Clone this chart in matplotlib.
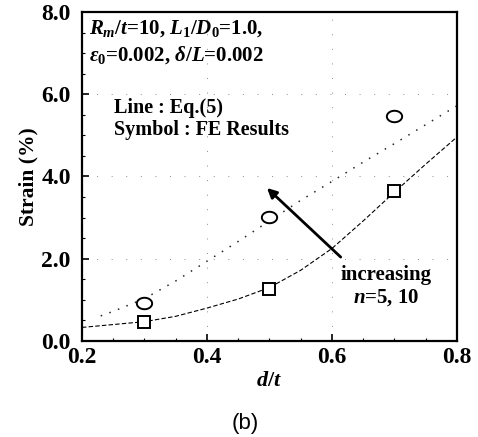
import numpy as np
import matplotlib
matplotlib.use('Agg')
import matplotlib.pyplot as plt
from matplotlib.path import Path
from matplotlib.ticker import MultipleLocator, FormatStrFormatter

serif = 'Liberation Serif'
plt.rcParams['mathtext.fontset'] = 'custom'
plt.rcParams['mathtext.rm'] = serif + ':bold'
plt.rcParams['mathtext.it'] = serif + ':bold:italic'
plt.rcParams['mathtext.bf'] = serif + ':bold'
plt.rcParams['mathtext.bfit'] = serif + ':bold:italic'

# Eq.(5) curves, n=5 (dashed) and n=10 (dotted)
dt_n5 = [0.20, 0.25, 0.30, 0.35, 0.40, 0.45, 0.50, 0.55, 0.60, 0.65, 0.70, 0.75, 0.80]
eq_n5 = [0.33, 0.40, 0.47, 0.60, 0.80, 1.02, 1.30, 1.72, 2.25, 2.92, 3.62, 4.30, 4.96]
dt_n10 = [0.23, 0.25, 0.30, 0.35, 0.40, 0.45, 0.50, 0.55, 0.60, 0.65, 0.70, 0.75, 0.80]
eq_n10 = [0.61, 0.72, 1.03, 1.46, 1.94, 2.42, 2.92, 3.42, 3.88, 4.35, 4.80, 5.26, 5.72]

# FE results
fe_dt = [0.3, 0.5, 0.7]
fe_n5 = [0.46, 1.27, 3.65]
fe_n10 = [0.92, 3.02, 5.47]

fig = plt.figure(figsize=(4.78, 4.37), dpi=100)
ax = fig.add_axes([0.1715, 0.2197, 0.7845, 0.7529])

# light dotted grid
ax.grid(True, which='major', color='0.55', linestyle=(0, (1, 14)), linewidth=0.7)

ax.plot(dt_n5, eq_n5, color='black', linestyle=(0, (4, 2)), linewidth=0.8)
ax.plot(dt_n10, eq_n10, color='0.15', linestyle=(0, (1, 5)), linewidth=1.1)

# slightly flattened circle marker
th = np.linspace(0, 2 * np.pi, 60)
ellipse = Path(np.column_stack([np.cos(th), 0.75 * np.sin(th)]), closed=True)
ax.plot(fe_dt, fe_n10, linestyle='none', marker=ellipse, markersize=11,
        markerfacecolor='white', markeredgecolor='black', markeredgewidth=1.4)
ax.plot(fe_dt, fe_n5, linestyle='none', marker='s', markersize=8,
        markerfacecolor='white', markeredgecolor='black', markeredgewidth=1.4)

ax.set_xlim(0.2, 0.8)
ax.set_ylim(0.0, 8.0)
ax.xaxis.set_major_locator(MultipleLocator(0.2))
ax.xaxis.set_minor_locator(MultipleLocator(0.05))
ax.yaxis.set_major_locator(MultipleLocator(2.0))
ax.yaxis.set_minor_locator(MultipleLocator(0.5))
ax.xaxis.set_major_formatter(FormatStrFormatter('%.1f'))
ax.yaxis.set_major_formatter(FormatStrFormatter('%.1f'))
ax.tick_params(which='both', direction='in', top=False, right=False)
ax.tick_params(which='major', length=5, width=1.2)
ax.tick_params(axis='x', which='major', pad=4)
ax.tick_params(axis='y', which='major', pad=8)
for lab in ax.get_xticklabels() + ax.get_yticklabels():
    lab.set_fontfamily(serif)
    lab.set_fontweight('bold')
    lab.set_fontsize(17)
ax.tick_params(which='minor', length=2.5, width=0.8)
for sp in ax.spines.values():
    sp.set_linewidth(1.6)

ax.set_xlabel(r'$d/t$', fontsize=16, labelpad=2)
ax.set_ylabel('Strain (%)', fontfamily=serif, fontweight='bold', fontsize=15.5, labelpad=2)

txt = dict(fontfamily=serif, fontweight='bold', fontsize=15, color='black')
ax.text(0.212, 7.6, r'$R_m/t$=10, $L_1/D_0$=1.0,', va='center', ha='left', **txt)
ax.text(0.212, 6.95, r'$\varepsilon_0$=0.002, $\delta/L$=0.002', va='center', ha='left', **txt)
txt['fontsize'] = 14.5
ax.text(0.252, 5.66, 'Line : Eq.(5)', va='center', ha='left', **txt)
ax.text(0.252, 5.14, 'Symbol : FE Results', va='center', ha='left', **txt)
txt['fontsize'] = 15
ax.text(0.686, 1.6, 'increasing', va='center', ha='center', **txt)
ax.text(0.686, 1.05, r'$n$=5, 10', va='center', ha='center', **txt)

ax.annotate('', xy=(0.496, 3.72), xytext=(0.614, 2.04),
            arrowprops=dict(arrowstyle='-|>', color='black', lw=2.0,
                            mutation_scale=14, shrinkA=0, shrinkB=0))

fig.text(0.513, 0.032, '(b)', fontfamily='Liberation Sans', fontsize=16,
         ha='center', va='center')

fig.savefig('out.png', dpi=100)
